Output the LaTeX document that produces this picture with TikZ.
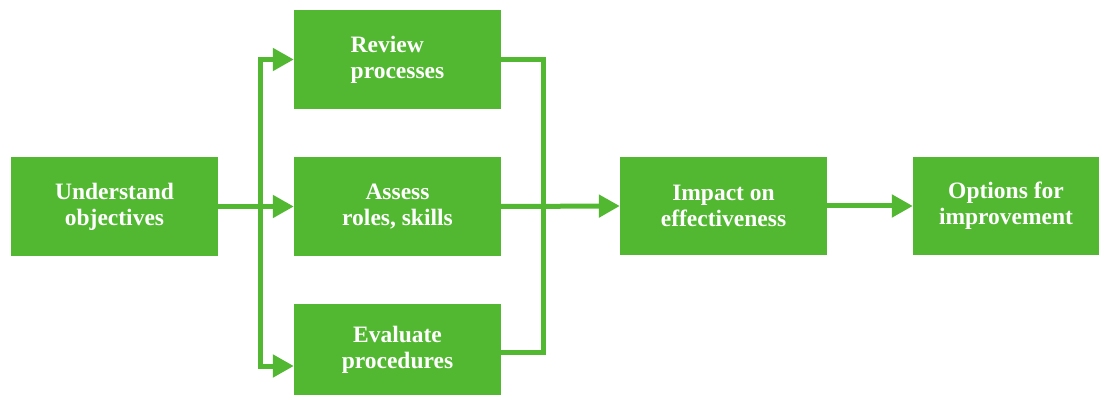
\documentclass[tikz,border=0pt]{standalone}
\usepackage{fontspec}
\setmainfont{Liberation Serif}
\usetikzlibrary{arrows.meta}
\definecolor{leaf}{HTML}{52B831}
\begin{document}
\begin{tikzpicture}[x=1pt,y=-1pt,
  box/.style={fill=leaf, draw=none, rectangle, inner sep=0pt, text=white,
    font=\bfseries\fontsize{23.5}{26}\selectfont, align=center},
  flow/.style={draw=leaf, line width=5pt, -{Triangle[length=21pt,width=22pt]}},
  wire/.style={draw=leaf, line width=5pt}]
\useasboundingbox (0,0) rectangle (1099,395);

% process boxes
\node[box, minimum width=207pt, minimum height=99pt] (und) at (114.5,206.5) {Understand\\objectives};
\node[box, minimum width=207pt, minimum height=99pt, align=left] (rev) at (397.5,59.5) {Review\\processes};
\node[box, minimum width=207pt, minimum height=99pt] (asm) at (397.5,206.5) {Assess\\roles, skills};
\node[box, minimum width=207pt, minimum height=91pt] (evl) at (397.5,349.5) {Evaluate\\procedures};
\node[box, minimum width=207pt, minimum height=98pt] (imp) at (723.5,206) {Impact on\\effectiveness};
\node[box, minimum width=186pt, minimum height=98pt] (opt) at (1006,206) {Options for\\improvement};

% branching and merging points
\coordinate (split) at (260,207);
\coordinate (merge) at (543,207);
\coordinate (evin) at (evl.west |- 0,366);
\coordinate (evout) at (evl.east |- 0,352);

% fan-out to the three assessments
\draw[flow] (und.east) -- (asm.west);
\draw[flow] (split) |- (rev.west);
\draw[flow] (split) |- (evin);

% fan-in to the impact box
\draw[wire] (rev.east) -| (merge);
\draw[wire] (evout) -| (merge);
\draw[flow] (asm.east) -- (imp.west);
\draw[flow] (imp.east) -- (opt.west);
\end{tikzpicture}
\end{document}
